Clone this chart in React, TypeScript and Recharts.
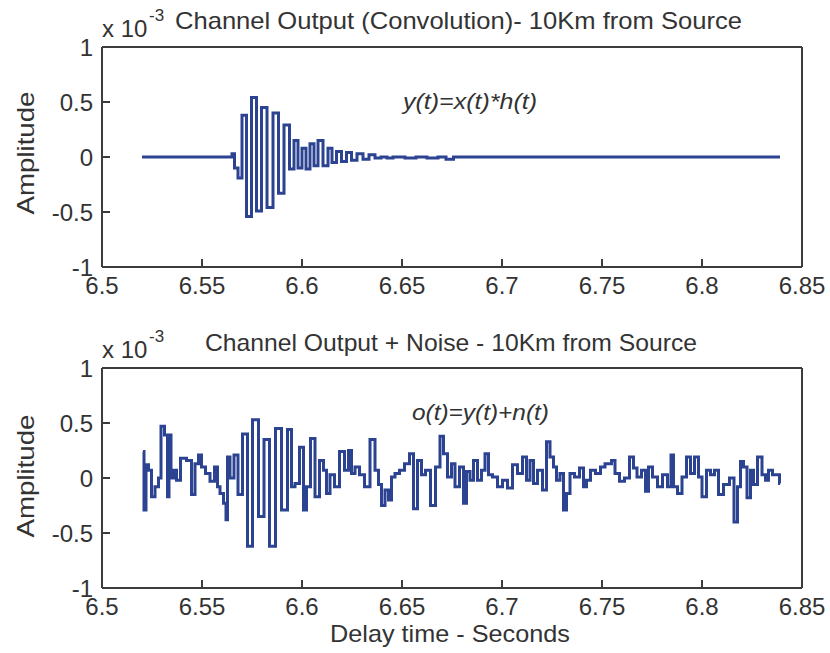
import React from "react";
import { LineChart, Line, XAxis, YAxis } from "recharts";

// axis ticks
const timeTicks = [6.5, 6.55, 6.6, 6.65, 6.7, 6.75, 6.8, 6.85];
const ampTicks = [-1, -0.5, 0, 0.5, 1];

// y(t) = x(t)*h(t)  (amplitude in units of 1e-3)
const convTime = [
  6.52, 6.5645, 6.5655, 6.567, 6.569, 6.571, 6.5735, 6.576, 6.5785, 6.581,
  6.584, 6.587, 6.5895, 6.5925, 6.595, 6.597, 6.599, 6.601, 6.603, 6.605,
  6.607, 6.609, 6.612, 6.614, 6.616, 6.6185, 6.621, 6.6235, 6.626, 6.629,
  6.632, 6.635, 6.638, 6.641, 6.644, 6.647, 6.656, 6.658, 6.667, 6.669,
  6.675, 6.6765, 6.839,
];
const convAmp = [
  0, 0, 0.03, -0.1, -0.19, 0.38, -0.54, 0.54, -0.49, 0.45,
  -0.46, 0.4, -0.33, 0.29, -0.11, 0.15, -0.1, 0.08, -0.11, 0.12,
  -0.08, 0.15, -0.08, 0.08, -0.05, 0.05, -0.04, 0.04, -0.03, 0.03,
  -0.02, 0.02, -0.01, 0, -0.01, 0, -0.01, 0, -0.01, 0,
  -0.02, 0, 0,
];

// o(t) = y(t) + n(t)
const noisyTime = [
  6.5205, 6.5215, 6.5225, 6.524, 6.5255, 6.5275, 6.529, 6.53, 6.5325, 6.533,
  6.534, 6.535, 6.5365, 6.538, 6.5405, 6.544, 6.5455, 6.5475, 6.549, 6.5505,
  6.553, 6.555, 6.5575, 6.558, 6.56, 6.5615, 6.5625, 6.563, 6.565, 6.567,
  6.569, 6.5715, 6.574, 6.5765, 6.58, 6.582, 6.5855, 6.588, 6.5915, 6.594,
  6.5955, 6.5975, 6.6, 6.6015, 6.603, 6.6055, 6.6075, 6.61, 6.6115, 6.613,
  6.615, 6.6175, 6.62, 6.6225, 6.624, 6.6255, 6.6275, 6.63, 6.6325, 6.6355,
  6.6375, 6.639, 6.6405, 6.6425, 6.644, 6.6455, 6.6475, 6.65, 6.6525, 6.655,
  6.6565, 6.659, 6.6605, 6.663, 6.6655, 6.668, 6.67, 6.6715, 6.674, 6.6755,
  6.6775, 6.68, 6.6815, 6.683, 6.685, 6.6865, 6.689, 6.6905, 6.6925, 6.694,
  6.6965, 6.699, 6.7015, 6.704, 6.7065, 6.709, 6.7115, 6.713, 6.715, 6.7165,
  6.719, 6.7215, 6.723, 6.725, 6.7265, 6.728, 6.73, 6.7315, 6.733, 6.735,
  6.7375, 6.74, 6.7415, 6.743, 6.7455, 6.748, 6.7505, 6.7525, 6.754, 6.7555,
  6.7575, 6.76, 6.7625, 6.765, 6.7665, 6.7685, 6.771, 6.7725, 6.774, 6.7765,
  6.779, 6.7815, 6.784, 6.785, 6.7865, 6.789, 6.791, 6.7935, 6.795, 6.7975,
  6.799, 6.801, 6.8035, 6.805, 6.8075, 6.809, 6.8125, 6.815, 6.817, 6.8185,
  6.82, 6.8215, 6.8235, 6.825, 6.8265, 6.829, 6.831, 6.8325, 6.834, 6.8365,
  6.8385, 6.839,
];
const noisyAmp = [
  0.24, -0.29, 0.12, 0.07, -0.17, -0.08, 0, 0.47, 0.39, -0.17,
  0.39, 0, 0.07, -0.02, 0.18, 0.16, -0.15, 0.13, 0.21, 0.1,
  0.04, -0.03, 0.1, -0.08, -0.14, -0.23, -0.38, 0.19, 0, 0.21,
  -0.15, 0.4, -0.62, 0.53, -0.35, 0.35, -0.62, 0.45, -0.29, 0.44,
  -0.08, -0.05, 0.28, -0.29, -0.08, 0.36, -0.17, 0.16, 0.07, -0.14,
  0.03, -0.08, 0.24, 0.07, 0.25, 0.04, 0.1, 0.03, -0.08, 0.35,
  0.07, -0.06, -0.25, -0.11, -0.2, 0.01, 0.04, 0.07, 0.13, 0.22,
  -0.28, 0.16, 0.03, 0.07, -0.25, 0.1, 0.38, 0.22, 0.01, 0.13,
  -0.08, 0.1, -0.23, 0.06, -0.02, 0.16, -0.02, 0.07, 0.22, 0.03,
  0.01, -0.08, -0.02, -0.09, 0.12, 0.04, 0.19, -0.02, 0.16, -0.05,
  0.07, -0.11, 0.33, 0.19, 0.1, -0.02, 0.04, -0.29, -0.14, 0.04,
  0.01, 0.09, -0.08, -0.02, 0.07, 0.04, 0.1, 0.13, 0.13, 0.16,
  0.04, -0.03, 0, 0.19, 0.09, 0.01, 0.07, -0.12, 0.1, 0.01,
  -0.08, 0.03, -0.08, 0.21, -0.08, -0.14, 0.01, 0.19, 0.04, 0.19,
  0.01, -0.17, 0.07, 0.03, 0.07, -0.15, -0.06, 0, -0.4, -0.08,
  0.15, 0.1, -0.18, 0.07, -0.06, 0.19, 0.03, -0.02, 0.07, 0.03,
  0.03, -0.05,
];

const FONT = "'Liberation Sans', Arial, sans-serif";
const INK = "#333";
const AXIS = "#3c3c3c";
const BLUE = "#2c4391";
const IN_TICK = -8; // negative size draws the tick marks into the box

function SignalPanel({ times, amps, top }: { times: number[]; amps: number[]; top: number }) {
  const rows = times.map((t, i) => ({ t, v: amps[i] }));
  const frame = { stroke: AXIS, strokeWidth: 2 };
  const tickMark = { stroke: AXIS, strokeWidth: 2 };
  const tickFont = { fontSize: 24, fontFamily: FONT, fill: INK };
  return (
    <div style={{ position: "absolute", left: 0, top }}>
      <LineChart width={830} height={300} data={rows} margin={{ top: 46, right: 27, bottom: 3, left: 42 }}>
        <XAxis
          xAxisId="b"
          dataKey="t"
          type="number"
          domain={[6.5, 6.85]}
          ticks={timeTicks}
          allowDataOverflow
          interval={0}
          height={30}
          axisLine={frame}
          tickLine={tickMark}
          tickSize={IN_TICK}
          tickMargin={18}
          tick={tickFont}
        />
        <XAxis
          xAxisId="t"
          orientation="top"
          type="number"
          domain={[6.5, 6.85]}
          ticks={timeTicks}
          allowDataOverflow
          interval={0}
          height={1}
          axisLine={frame}
          tickLine={tickMark}
          tickSize={IN_TICK}
          tick={false}
        />
        <YAxis
          yAxisId="l"
          type="number"
          domain={[-1, 1]}
          ticks={ampTicks}
          allowDataOverflow
          interval={0}
          width={60}
          axisLine={frame}
          tickLine={tickMark}
          tickSize={IN_TICK}
          tickMargin={17}
          tick={tickFont}
        />
        <YAxis
          yAxisId="r"
          orientation="right"
          type="number"
          domain={[-1, 1]}
          ticks={ampTicks}
          allowDataOverflow
          interval={0}
          width={1}
          axisLine={frame}
          tickLine={tickMark}
          tickSize={IN_TICK}
          tick={false}
        />
        <Line
          xAxisId="b"
          yAxisId="l"
          type="step"
          dataKey="v"
          stroke={BLUE}
          strokeWidth={3}
          dot={false}
          isAnimationActive={false}
        />
      </LineChart>
    </div>
  );
}

export default function App() {
  const txt = { fontFamily: FONT, fill: INK };
  return (
    <div style={{ position: "absolute", left: 0, top: 0, width: 830, height: 653, background: "#fff" }}>
      <SignalPanel times={convTime} amps={convAmp} top={0} />
      <SignalPanel times={noisyTime} amps={noisyAmp} top={321} />
      <svg width={830} height={653} style={{ position: "absolute", left: 0, top: 0, pointerEvents: "none" }}>
        {/* top panel texts */}
        <text x={102} y={37} fontSize={24} {...txt}>x 10</text>
        <text x={149} y={21} fontSize={17} {...txt}>-3</text>
        <text x={175} y={29} fontSize={24} textLength={567} lengthAdjust="spacingAndGlyphs" {...txt}>
          Channel Output (Convolution)- 10Km from Source
        </text>
        <text x={403} y={109} fontSize={22} fontStyle="italic" textLength={134} lengthAdjust="spacingAndGlyphs" {...txt}>
          y(t)=x(t)*h(t)
        </text>
        <text
          transform="translate(34,153) rotate(-90)"
          textAnchor="middle"
          fontSize={24}
          textLength={123}
          lengthAdjust="spacingAndGlyphs"
          {...txt}
        >
          Amplitude
        </text>

        {/* bottom panel texts */}
        <text x={102} y={358} fontSize={24} {...txt}>x 10</text>
        <text x={149} y={342} fontSize={17} {...txt}>-3</text>
        <text x={205} y={351} fontSize={24} textLength={492} lengthAdjust="spacingAndGlyphs" {...txt}>
          Channel Output + Noise - 10Km from Source
        </text>
        <text x={412} y={420} fontSize={22} fontStyle="italic" textLength={137} lengthAdjust="spacingAndGlyphs" {...txt}>
          o(t)=y(t)+n(t)
        </text>
        <text
          transform="translate(34,476) rotate(-90)"
          textAnchor="middle"
          fontSize={24}
          textLength={123}
          lengthAdjust="spacingAndGlyphs"
          {...txt}
        >
          Amplitude
        </text>
        <text x={330} y={642} fontSize={24} textLength={240} lengthAdjust="spacingAndGlyphs" {...txt}>
          Delay time - Seconds
        </text>
      </svg>
    </div>
  );
}
